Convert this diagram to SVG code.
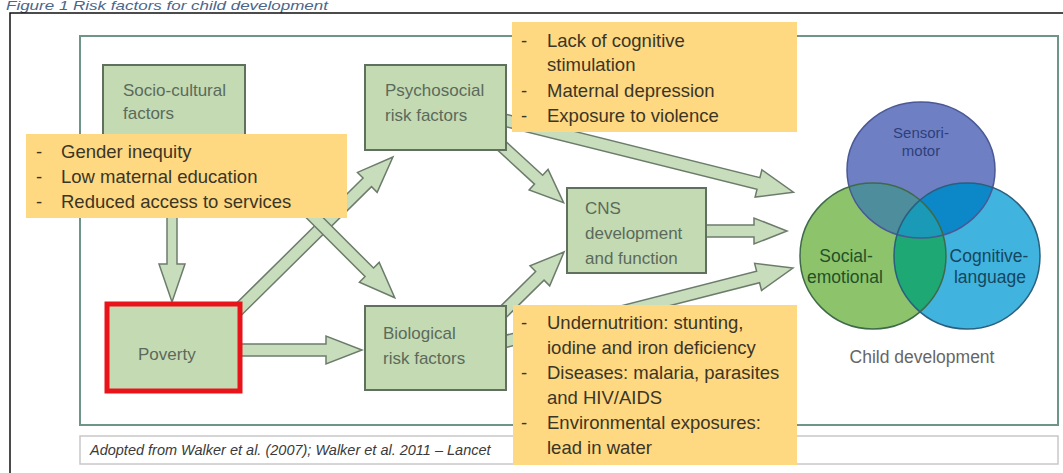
<svg xmlns="http://www.w3.org/2000/svg" width="1063" height="473" viewBox="0 0 1063 473">
<style>
  .title{font-family:"Liberation Sans",Arial,sans-serif;font-style:italic;font-size:13px;fill:#4a668c}
  .gbox{fill:#c4dab3;stroke:#5f705f;stroke-width:2}
  .ybox{fill:#fed982;stroke:none}
  .arrow{fill:#c8ddbb;stroke:#6c7c6c;stroke-width:1.5;stroke-linejoin:miter}
  .gt{font-family:"Liberation Sans",Arial,sans-serif;font-size:17px;fill:#5b6a5b}
  .yt{font-family:"Liberation Sans",Arial,sans-serif;font-size:18.5px;fill:#3b3526}
  .cap{font-family:"Liberation Sans",Arial,sans-serif;font-style:italic;font-size:14.5px;fill:#3a3a3a}
  .vt{font-family:"Liberation Sans",Arial,sans-serif;text-anchor:middle}
</style>
<defs>
  <clipPath id="clipSoc"><circle cx="873" cy="256" r="73"/></clipPath>
  <clipPath id="clipCog"><circle cx="967" cy="256" r="73"/></clipPath>
</defs>
<rect x="0" y="0" width="1063" height="473" fill="#ffffff"/>
<text class="title" x="6" y="10" textLength="322" lengthAdjust="spacingAndGlyphs">Figure 1 Risk factors for child development</text>
<rect x="10" y="13" width="1100" height="500" fill="#ffffff" stroke="#111111" stroke-width="1.5"/>
<rect id="frame" x="80" y="36" width="978" height="389" fill="#ffffff" stroke="#6f9488" stroke-width="2"/>
<g id="caption">
  <rect x="80" y="436" width="978" height="28" fill="#ffffff" stroke="#c8c8c8" stroke-width="1.5"/>
  <text class="cap" x="90" y="455">Adopted from Walker et al. (2007); Walker et al. 2011 – Lancet</text>
</g>
<g id="connectors">
  <path class="arrow" transform="translate(172,200) rotate(90)" d="M0,-5H64V-13L102,0L64,13V5H0Z"/>
  <path class="arrow" transform="translate(230,350)" d="M0,-6H96V-14L132,0L96,14V6H0Z"/>
  <path class="arrow" transform="translate(230,318) rotate(-44.65)" d="M0,-6H193V-14L229,0L193,14V6H0Z"/>
  <path class="arrow" transform="translate(300,203) rotate(45)" d="M0,-6H98V-14L134,0L98,14V6H0Z"/>
  <path class="arrow" transform="translate(490,135) rotate(42.6)" d="M0,-6H66V-14L100,0L66,14V6H0Z"/>
  <path class="arrow" transform="translate(490,325) rotate(-44.6)" d="M0,-6H70V-14L104,0L70,14V6H0Z"/>
  <path class="arrow" transform="translate(480,114) rotate(14)" d="M0,-6H287V-14L323,0L287,14V6H0Z"/>
  <path class="arrow" transform="translate(690,231)" d="M0,-6H64V-13L97,0L64,13V6H0Z"/>
  <path class="arrow" transform="translate(480,348) rotate(-14.34)" d="M0,-6H287V-14L323,0L287,14V6H0Z"/>
</g>
<g id="socio">
  <rect class="gbox" x="103" y="65" width="142" height="85"/>
  <text class="gt" x="123" y="96">Socio-cultural</text>
  <text class="gt" x="123" y="119">factors</text>
</g>
<g id="poverty">
  <rect class="gbox" x="107" y="304" width="133" height="87" style="stroke:#e8141a;stroke-width:5"/>
  <text class="gt" x="138" y="360">Poverty</text>
</g>
<g id="psychosocial">
  <rect class="gbox" x="365" y="65" width="141" height="85"/>
  <text class="gt" x="385" y="96">Psychosocial</text>
  <text class="gt" x="385" y="121">risk factors</text>
</g>
<g id="biological">
  <rect class="gbox" x="365" y="306" width="141" height="84"/>
  <text class="gt" x="383" y="339">Biological</text>
  <text class="gt" x="383" y="364">risk factors</text>
</g>
<g id="cns">
  <rect class="gbox" x="567" y="188" width="139" height="85"/>
  <text class="gt" x="585" y="214">CNS</text>
  <text class="gt" x="585" y="239">development</text>
  <text class="gt" x="585" y="264">and function</text>
</g>
<g id="socio-list">
  <rect class="ybox" x="26" y="134" width="321" height="84"/>
  <text class="yt" x="36" y="158">-</text><text class="yt" x="61" y="158">Gender inequity</text>
  <text class="yt" x="36" y="183">-</text><text class="yt" x="61" y="183">Low maternal education</text>
  <text class="yt" x="36" y="208">-</text><text class="yt" x="61" y="208">Reduced access to services</text>
</g>
<g id="psycho-list">
  <rect class="ybox" x="512" y="22" width="285" height="110"/>
  <text class="yt" x="521" y="47">-</text><text class="yt" x="547" y="47">Lack of cognitive</text>
  <text class="yt" x="547" y="71">stimulation</text>
  <text class="yt" x="521" y="97">-</text><text class="yt" x="547" y="97">Maternal depression</text>
  <text class="yt" x="521" y="122">-</text><text class="yt" x="547" y="122">Exposure to violence</text>
</g>
<g id="bio-list">
  <rect class="ybox" x="513" y="305" width="284" height="160"/>
  <text class="yt" x="521" y="329">-</text><text class="yt" x="547" y="329">Undernutrition: stunting,</text>
  <text class="yt" x="547" y="354">iodine and iron deficiency</text>
  <text class="yt" x="521" y="379">-</text><text class="yt" x="547" y="379">Diseases: malaria, parasites</text>
  <text class="yt" x="547" y="404">and HIV/AIDS</text>
  <text class="yt" x="521" y="429">-</text><text class="yt" x="547" y="429">Environmental exposures:</text>
  <text class="yt" x="547" y="454">lead in water</text>
</g>
<g id="child-development">
  <ellipse cx="921" cy="170" rx="74" ry="68" fill="#6f7fc4"/>
  <circle cx="873" cy="256" r="73" fill="#8dc46b"/>
  <circle cx="967" cy="256" r="73" fill="#40b4de"/>
  <circle cx="967" cy="256" r="73" fill="#1ea874" clip-path="url(#clipSoc)"/>
  <ellipse cx="921" cy="170" rx="74" ry="68" fill="#4e8e9c" clip-path="url(#clipSoc)"/>
  <ellipse cx="921" cy="170" rx="74" ry="68" fill="#0c88c8" clip-path="url(#clipCog)"/>
  <g clip-path="url(#clipSoc)">
    <ellipse cx="921" cy="170" rx="74" ry="68" fill="#1a9ab6" clip-path="url(#clipCog)"/>
  </g>
  <ellipse cx="921" cy="170" rx="74" ry="68" fill="none" stroke="#4a5896" stroke-width="1.5"/>
  <circle cx="873" cy="256" r="73" fill="none" stroke="#3f6a4a" stroke-width="1.5"/>
  <circle cx="967" cy="256" r="73" fill="none" stroke="#2a5f7e" stroke-width="1.5"/>
  <text class="vt" x="921" y="138" font-size="15" fill="#2d3f7a">Sensori-</text>
  <text class="vt" x="921" y="156" font-size="15" fill="#2d3f7a">motor</text>
  <text class="vt" x="846" y="262" font-size="17.5" fill="#24502a">Social-</text>
  <text class="vt" x="845" y="283" font-size="17.5" fill="#24502a">emotional</text>
  <text class="vt" x="989" y="262" font-size="17.5" fill="#16465f">Cognitive-</text>
  <text class="vt" x="990" y="283" font-size="17.5" fill="#16465f">language</text>
  <text class="vt" x="922" y="363" font-size="17.5" fill="#666666">Child development</text>
</g>
</svg>
